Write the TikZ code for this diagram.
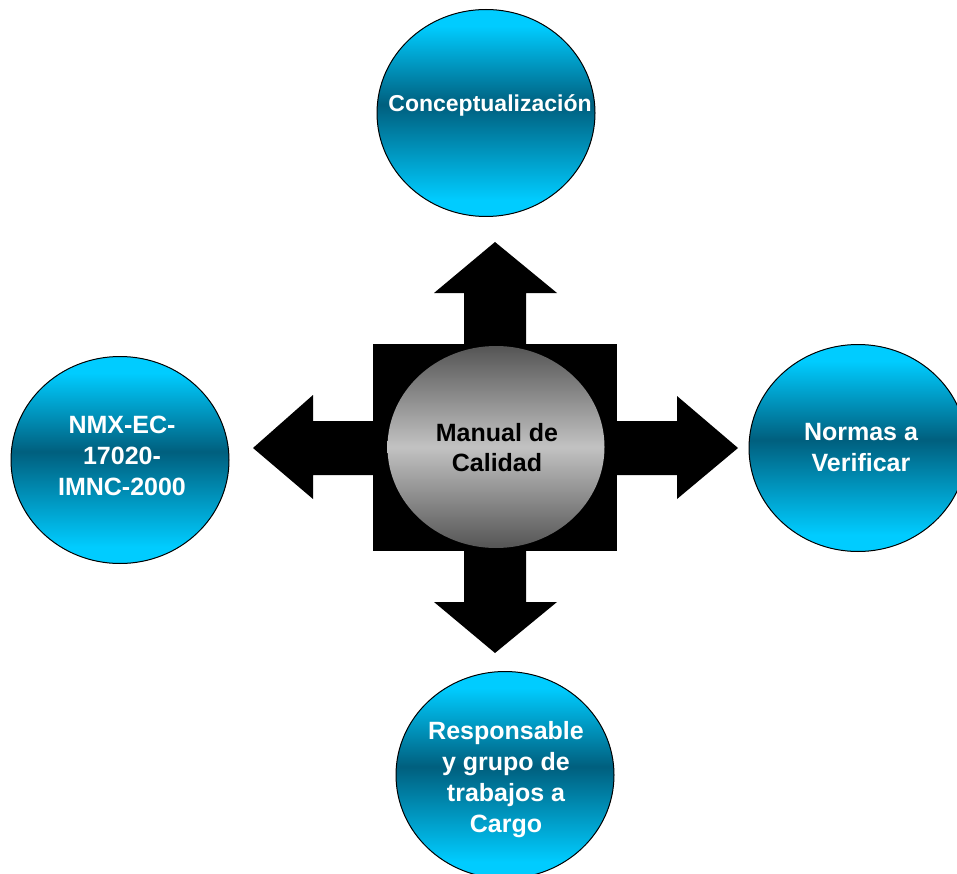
\documentclass[tikz,border=0pt]{standalone}
\usepackage{fontspec}
\setmainfont{Liberation Sans}
\usetikzlibrary{shapes.geometric}
\definecolor{cybright}{HTML}{00CCFF}
\definecolor{cydark}{HTML}{005F7E}
\definecolor{grdark}{HTML}{555555}
\definecolor{grlight}{HTML}{C2C2C2}
\pgfdeclareverticalshading{cyball}{100bp}{color(0bp)=(cybright); color(25bp)=(cybright); color(29bp)=(cybright); color(52bp)=(cydark); color(71bp)=(cybright); color(75bp)=(cybright); color(100bp)=(cybright)}
\pgfdeclareverticalshading{grball}{100bp}{color(0bp)=(grdark); color(25bp)=(grdark); color(50bp)=(grlight); color(75bp)=(grdark); color(100bp)=(grdark)}
\tikzset{
  ball/.style={ellipse, draw=black, line width=1pt, shading=cyball, minimum width=218pt, minimum height=207pt, inner sep=0pt},
  balltext/.style={text=white, font=\fontsize{25}{31}\selectfont\bfseries, align=center},
  hub/.style={ellipse, draw=none, shading=grball, minimum width=217pt, minimum height=202pt, inner sep=0pt},
  bigarrow/.style={fill=black, draw=none}
}
\begin{document}
\begin{tikzpicture}[x=1pt,y=-1pt]
\useasboundingbox (0,0) rectangle (957,874);
% central cross of arrows
\fill[bigarrow] (373,344) rectangle (617,551);
\fill[bigarrow] (464,344) -- (464,293) -- (434,293) -- (495,242) -- (557,293) -- (526,293) -- (526,344) -- cycle;
\fill[bigarrow] (464,551) -- (464,602) -- (434,602) -- (495,653) -- (557,602) -- (526,602) -- (526,551) -- cycle;
\fill[bigarrow] (373,421) -- (313,421) -- (313,395) -- (253,448) -- (313,499) -- (313,475) -- (373,475) -- cycle;
\fill[bigarrow] (617,421) -- (677,421) -- (677,396) -- (738,448) -- (677,499) -- (677,475) -- (617,475) -- cycle;
% hub
\node[hub] (hub) at (496,447) {};
\node[font=\fontsize{25}{30}\selectfont\bfseries, align=center] (hubtext) at (497,448) {Manual de\\Calidad};
% outer balls
\node[ball] (top) at (486,113) {};
\node[balltext, font=\fontsize{23}{29}\selectfont\bfseries] (toptext) at (490,105) {Conceptualización};
\node[ball] (right) at (858,448) {};
\node[balltext] (righttext) at (861,448) {Normas a\\Verificar};
\node[ball] (left) at (120,460) {};
\node[balltext] (lefttext) at (122,456) {NMX-EC-\\17020-\\IMNC-2000};
\node[ball] (bottom) at (505,775) {};
\node[balltext] (bottomtext) at (506,780) {Responsable\\y grupo de\\trabajos a\\Cargo};
\end{tikzpicture}
\end{document}
